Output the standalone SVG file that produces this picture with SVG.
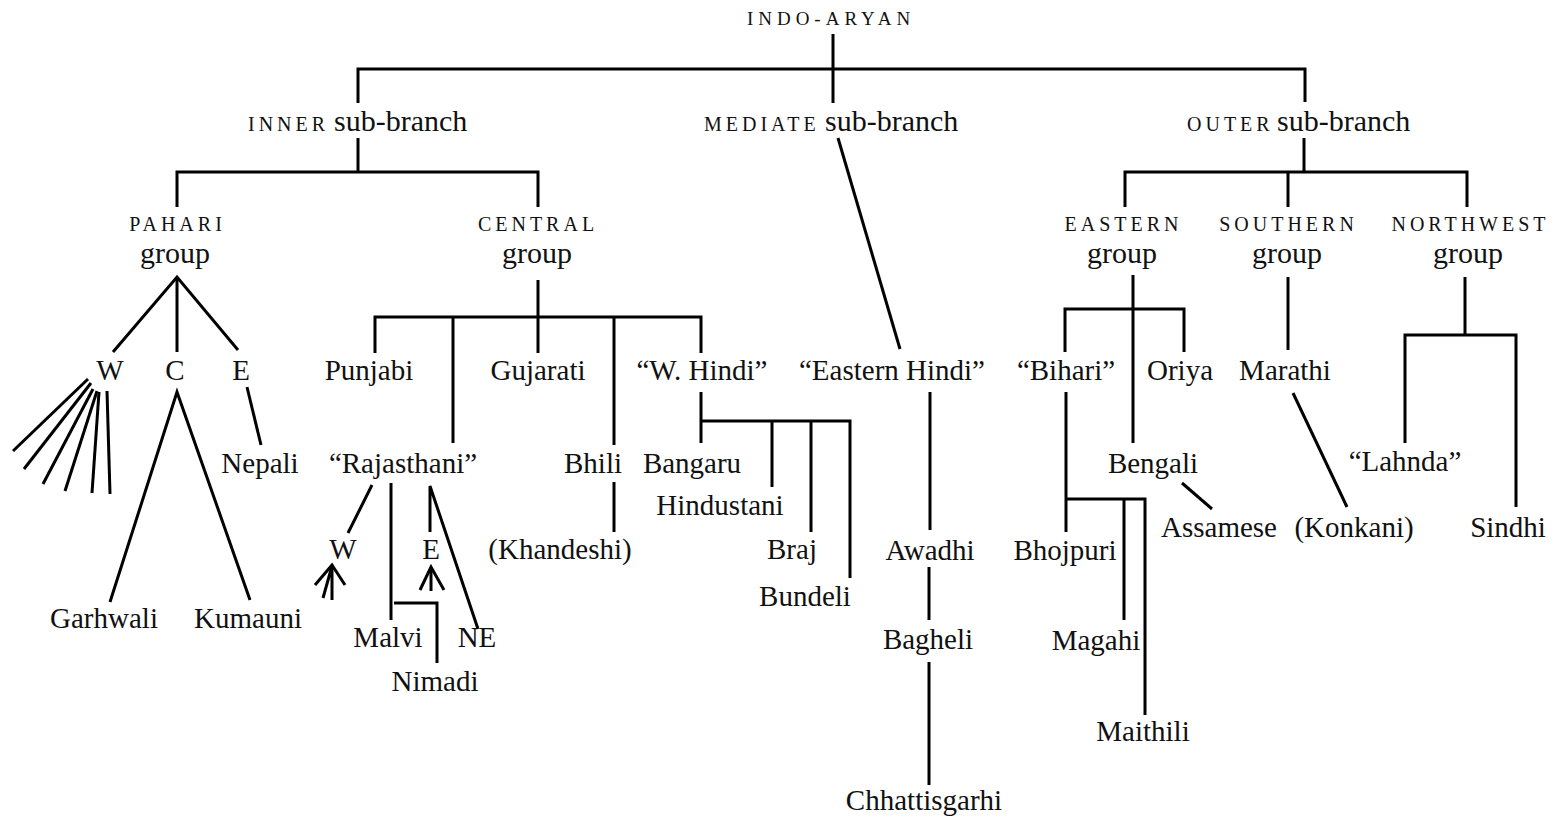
<svg xmlns="http://www.w3.org/2000/svg" width="1562" height="820" viewBox="0 0 1562 820">
  <style>
    text { font-family: "Liberation Serif", "Times New Roman", serif; fill: #111; }
    .lang { font-size: 29px; text-anchor: middle; }
    .sc { font-size: 20px; letter-spacing: 4px; }
    .sc-top { font-size: 19px; letter-spacing: 5px; text-anchor: middle; }
    .scm { font-size: 20px; letter-spacing: 4px; text-anchor: middle; }
    .big { font-size: 30px; }
    .grp { font-size: 30px; text-anchor: middle; }
    .edge { fill: none; stroke: #000; stroke-width: 3; stroke-linecap: butt; stroke-linejoin: miter; }
  </style>

  <!-- connectors -->
  <g id="connectors" class="edge">
    <!-- root split -->
    <path d="M833,34 V103"/>
    <path d="M358,103 V69 H1305 V102"/>
    <!-- inner sub-branch -->
    <path d="M358,138 V172"/>
    <path d="M177,207 V172 H538 V207"/>
    <!-- mediate sub-branch -->
    <path d="M838,138 L900,349"/>
    <!-- outer sub-branch -->
    <path d="M1304,138 V172"/>
    <path d="M1125,207 V172 H1467 V207"/>
    <path d="M1288,172 V207"/>
    <!-- pahari -->
    <path d="M113,352 L177,277 L238,350"/>
    <path d="M177,277 V352"/>
    <path d="M88,379 L13,451"/>
    <path d="M91,383 L24,469"/>
    <path d="M93,389 L43,484"/>
    <path d="M97,391 L65,491"/>
    <path d="M99,392 L92,493"/>
    <path d="M107,391 L110,494"/>
    <path d="M110,602 L177,392 L250,600"/>
    <path d="M247,387 L261,445"/>
    <!-- central -->
    <path d="M538,280 V317"/>
    <path d="M375,353 V317 H701 V353"/>
    <path d="M453,317 V443"/>
    <path d="M538,317 V353"/>
    <path d="M614,317 V445"/>
    <!-- rajasthani -->
    <path d="M372,485 L348,533"/>
    <path d="M391,483 V620"/>
    <path d="M394,603 H437 V663"/>
    <path d="M430,532 V486 L478,629"/>
    <path d="M315,585 L332,565 L345,585"/>
    <path d="M323,598 L332,566 V600"/>
    <path d="M420,590 L431,567 L444,590"/>
    <path d="M431,568 V591"/>
    <!-- bhili -->
    <path d="M614,482 V532"/>
    <!-- western hindi -->
    <path d="M701,392 V443"/>
    <path d="M701,421 H850 V578"/>
    <path d="M772,421 V487"/>
    <path d="M811,421 V532"/>
    <!-- eastern hindi -->
    <path d="M930,392 V530"/>
    <path d="M929,567 V620"/>
    <path d="M929,662 V785"/>
    <!-- eastern group -->
    <path d="M1133,275 V443"/>
    <path d="M1065,352 V309 H1184 V352"/>
    <path d="M1066,392 V532"/>
    <path d="M1066,499 H1145 V715"/>
    <path d="M1124,499 V620"/>
    <path d="M1182,483 L1212,509"/>
    <!-- southern group -->
    <path d="M1288,277 V350"/>
    <path d="M1293,393 L1347,507"/>
    <!-- northwest group -->
    <path d="M1465,277 V335"/>
    <path d="M1405,443 V335 H1516 V507"/>
  </g>

  <!-- branch and group headings -->
  <g id="indo-aryan"><text class="sc-top" x="831" y="25">INDO-ARYAN</text></g>
  <g id="inner"><text x="248" y="131"><tspan class="sc">INNER</tspan><tspan class="big" x="334">sub-branch</tspan></text></g>
  <g id="mediate"><text x="704" y="131"><tspan class="sc">MEDIATE</tspan><tspan class="big" x="825">sub-branch</tspan></text></g>
  <g id="outer"><text x="1187" y="131"><tspan class="sc">OUTER</tspan><tspan class="big" x="1277">sub-branch</tspan></text></g>

  <g id="pahari"><text class="scm" x="177.5" y="231">PAHARI</text><text class="grp" x="175" y="263">group</text></g>
  <g id="central"><text class="scm" x="538" y="231">CENTRAL</text><text class="grp" x="537" y="263">group</text></g>
  <g id="eastern"><text class="scm" x="1123.5" y="231">EASTERN</text><text class="grp" x="1122" y="263">group</text></g>
  <g id="southern"><text class="scm" x="1288.5" y="231">SOUTHERN</text><text class="grp" x="1287" y="263">group</text></g>
  <g id="northwest"><text class="scm" x="1470.5" y="231">NORTHWEST</text><text class="grp" x="1468" y="263">group</text></g>

  <!-- pahari members -->
  <g id="pahari-w"><text class="lang" x="110" y="380">W</text></g>
  <g id="pahari-c"><text class="lang" x="175" y="380">C</text></g>
  <g id="pahari-e"><text class="lang" x="241" y="380">E</text></g>
  <g id="nepali"><text class="lang" x="260" y="473">Nepali</text></g>
  <g id="garhwali"><text class="lang" x="104" y="628">Garhwali</text></g>
  <g id="kumauni"><text class="lang" x="248" y="628">Kumauni</text></g>

  <!-- central members -->
  <g id="punjabi"><text class="lang" x="369" y="380">Punjabi</text></g>
  <g id="gujarati"><text class="lang" x="538" y="380">Gujarati</text></g>
  <g id="w-hindi"><text class="lang" x="702" y="380">“W. Hindi”</text></g>
  <g id="rajasthani"><text class="lang" x="403" y="473">“Rajasthani”</text></g>
  <g id="raj-w"><text class="lang" x="343" y="559">W</text></g>
  <g id="raj-e"><text class="lang" x="431" y="559">E</text></g>
  <g id="malvi"><text class="lang" x="388" y="647">Malvi</text></g>
  <g id="raj-ne"><text class="lang" x="477" y="647">NE</text></g>
  <g id="nimadi"><text class="lang" x="435" y="691">Nimadi</text></g>
  <g id="bhili"><text class="lang" x="593" y="473">Bhili</text></g>
  <g id="khandeshi"><text class="lang" x="560" y="559">(Khandeshi)</text></g>
  <g id="bangaru"><text class="lang" x="692" y="473">Bangaru</text></g>
  <g id="hindustani"><text class="lang" x="720" y="515">Hindustani</text></g>
  <g id="braj"><text class="lang" x="792" y="559">Braj</text></g>
  <g id="bundeli"><text class="lang" x="805" y="606">Bundeli</text></g>

  <!-- mediate members -->
  <g id="eastern-hindi"><text class="lang" x="892" y="380">“Eastern Hindi”</text></g>
  <g id="awadhi"><text class="lang" x="930" y="560">Awadhi</text></g>
  <g id="bagheli"><text class="lang" x="928" y="649">Bagheli</text></g>
  <g id="chhattisgarhi"><text class="lang" x="924" y="810">Chhattisgarhi</text></g>

  <!-- outer members -->
  <g id="bihari"><text class="lang" x="1066" y="380">“Bihari”</text></g>
  <g id="oriya"><text class="lang" x="1180" y="380">Oriya</text></g>
  <g id="bengali"><text class="lang" x="1153" y="473">Bengali</text></g>
  <g id="assamese"><text class="lang" x="1219" y="537">Assamese</text></g>
  <g id="bhojpuri"><text class="lang" x="1065" y="560">Bhojpuri</text></g>
  <g id="magahi"><text class="lang" x="1096" y="650">Magahi</text></g>
  <g id="maithili"><text class="lang" x="1143" y="741">Maithili</text></g>
  <g id="marathi"><text class="lang" x="1285" y="380">Marathi</text></g>
  <g id="konkani"><text class="lang" x="1354" y="537">(Konkani)</text></g>
  <g id="lahnda"><text class="lang" x="1405" y="471">“Lahnda”</text></g>
  <g id="sindhi"><text class="lang" x="1508" y="537">Sindhi</text></g>
</svg>
